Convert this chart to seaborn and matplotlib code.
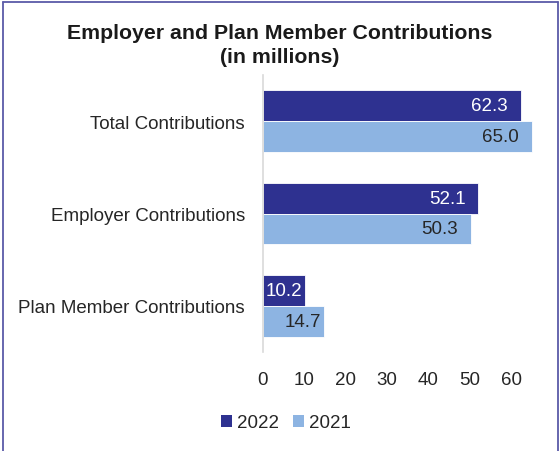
import matplotlib
matplotlib.use("Agg")
import matplotlib.pyplot as plt
from matplotlib.patches import Patch
from matplotlib.lines import Line2D
import seaborn as sns
import pandas as pd

categories = ["Total Contributions", "Employer Contributions", "Plan Member Contributions"]
years = ["2022", "2021"]
values_2022 = [62.3, 52.1, 10.2]
values_2021 = [65.0, 50.3, 14.7]
xticks = [0, 10, 20, 30, 40, 50, 60]

colors = {"2022": "#2e3190", "2021": "#8db4e2"}
label_colors = {"2022": "white", "2021": "#262626"}

df = pd.DataFrame({
    "category": categories * 2,
    "year": ["2022"] * 3 + ["2021"] * 3,
    "value": values_2022 + values_2021,
})

sns.set_theme(style="white")
plt.rcParams["font.family"] = ["Liberation Sans", "DejaVu Sans"]

FS = 13.5
fig = plt.figure(figsize=(5.59, 4.52), dpi=100)
W, H = 559, 452
ax = fig.add_axes([263 / W, 1 - 353 / H, (540 - 263) / W, (353 - 76) / H])

sns.barplot(data=df, y="category", x="value", hue="year", hue_order=years,
            order=categories, palette=colors, orient="h", width=0.67,
            saturation=1, edgecolor="white", linewidth=0.6, legend=False, ax=ax)

ax.set_xlim(0, 67)
ax.set_xticks(xticks)
ax.set_xticklabels([str(t) for t in xticks], fontsize=FS, color="#262626")
ax.tick_params(axis="x", length=0, pad=13.5)
ax.tick_params(axis="y", length=0, pad=13, labelsize=FS, labelcolor="#262626")
ax.set_xlabel("")
ax.set_ylabel("")
for s in ["top", "right", "bottom"]:
    ax.spines[s].set_visible(False)
ax.spines["left"].set_color("#d9d9d9")
ax.spines["left"].set_linewidth(1.2)

# value labels right-aligned just inside the end of each bar
px_per_unit = ax.bbox.width / 67
for container, yr in zip(ax.containers, years):
    for patch, v in zip(container.patches, container.datavalues):
        inset = 13 if v > 30 else 3
        y = patch.get_y() + patch.get_height() / 2
        ax.text(v - inset / px_per_unit, y, f"{v:.1f}", ha="right", va="center",
                color=label_colors[yr], fontsize=FS)

fig.text(0.5, 1 - 45.5 / H, "Employer and Plan Member Contributions\n(in millions)",
         ha="center", va="center", fontsize=15.3, fontweight="bold",
         color="#1a1a1a", linespacing=1.3)

handles = [Patch(facecolor=colors[y], edgecolor="none") for y in years]
fig.legend(handles, years, loc="center", bbox_to_anchor=(286 / W, 1 - 424 / H),
           ncol=2, frameon=False, fontsize=FS, handlelength=0.6,
           handleheight=0.6, handletextpad=0.3, columnspacing=0.7)

# thin frame around the figure (left, top, right)
frame_color = "#5b5ba8"
fig.add_artist(Line2D([2.5 / W, 2.5 / W], [0, 1 - 2.5 / H], transform=fig.transFigure,
                      color=frame_color, linewidth=1.3))
fig.add_artist(Line2D([2.5 / W, 557.5 / W], [1 - 2.5 / H, 1 - 2.5 / H],
                      transform=fig.transFigure, color=frame_color, linewidth=1.3))
fig.add_artist(Line2D([557.5 / W, 557.5 / W], [0, 1 - 2.5 / H], transform=fig.transFigure,
                      color=frame_color, linewidth=1.3))

fig.savefig("out.png", dpi=100)
